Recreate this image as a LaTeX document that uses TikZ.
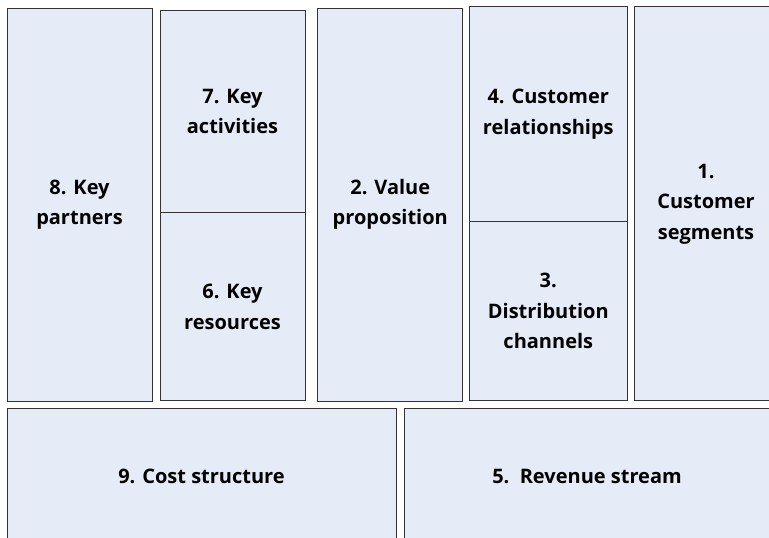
\documentclass[tikz,border=0pt]{standalone}
\usepackage{fontspec}
\setmainfont{Open Sans}
\definecolor{canvasfill}{HTML}{E6ECF7}
\definecolor{canvasline}{HTML}{333333}

\begin{document}
\begin{tikzpicture}[
	x = 1pt, y = -1pt,
	every node/.style = {draw = canvasline, fill = canvasfill, line width = 1pt,
		inner sep = 0pt, outer sep = 0pt, align = center,
		font = \fontsize{20}{30.5}\selectfont\bfseries},
	block/.style 2 args = {minimum width = #1, minimum height = #2}
	]
	\useasboundingbox (0,0) rectangle (769,538);
	\clip (0,0) rectangle (769,538);
	\fill[white] (0,0) rectangle (769,538);
	% top row
	\node[block = {145pt}{393pt}]   (partners)   at (79.5,204.5)  {8. Key\\partners};
	\node[block = {145pt}{202pt}]   (activities) at (232.5,111.6) {7. Key\\activities};
	\node[block = {145pt}{188pt}]   (resources)  at (232.5,306.9) {6. Key\\resources};
	\node[block = {145pt}{393pt}]   (value)      at (390.3,204.5) {2. Value\\proposition};
	\node[block = {158pt}{215pt}]   (relations)  at (548.3,114.2) {4. Customer\\relationships};
	\node[block = {158pt}{179pt}]   (channels)   at (548.3,311.3) {3.\\Distribution\\channels};
	\node[block = {144pt}{394pt}]   (segments)   at (706,203.8)   {1.\\Customer\\segments};
	% bottom row
	\node[block = {389pt}{137pt}]   (cost)       at (201.5,476.5) {9. Cost structure};
	\node[block = {366pt}{137pt}]   (revenue)    at (587,476.5)   {5.\ \ Revenue stream};
\end{tikzpicture}
\end{document}
